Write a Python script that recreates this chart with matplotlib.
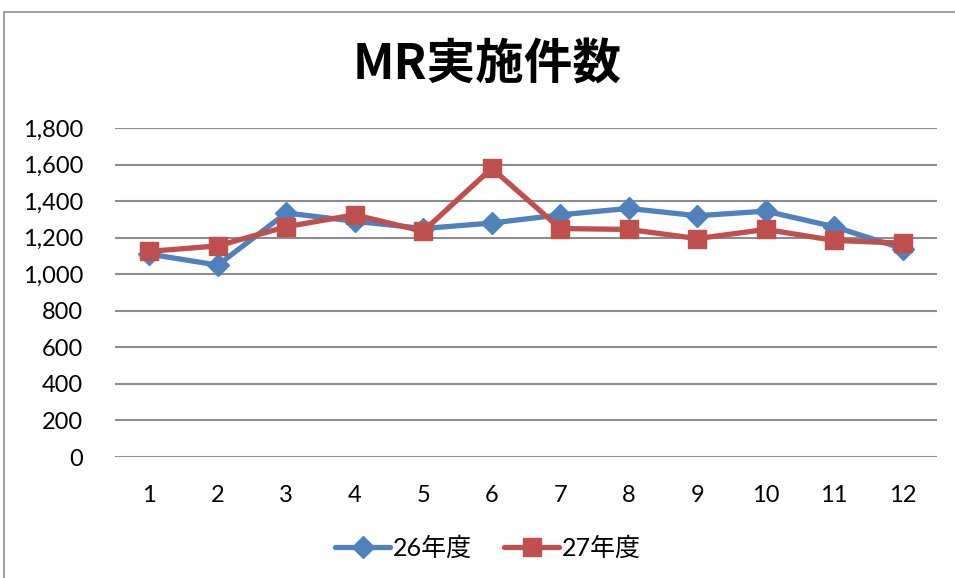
import matplotlib.pyplot as plt
from matplotlib.patches import Rectangle
from matplotlib.ticker import FuncFormatter

months = ["1", "2", "3", "4", "5", "6", "7", "8", "9", "10", "11", "12"]
fy26 = [1110, 1050, 1335, 1290, 1250, 1280, 1325, 1360, 1320, 1345, 1260, 1140]
fy27 = [1125, 1155, 1260, 1325, 1235, 1580, 1250, 1245, 1195, 1245, 1185, 1170]
series_names = ["26年度", "27年度"]
title = "MR実施件数"

plt.rcParams['font.family'] = ['Lato', 'Noto Sans CJK JP', 'DejaVu Sans']

fig = plt.figure(figsize=(9.55, 5.78), dpi=100)
ax = fig.add_axes([115 / 955, 1 - 457 / 578, (937 - 115) / 955, (457 - 128) / 578])

x = range(1, len(months) + 1)
ax.plot(x, fy26, color="#4F81BD", lw=3.8, marker="D", ms=11,
        label=series_names[0], solid_capstyle="round")
ax.plot(x, fy27, color="#C0504D", lw=3.8, marker="s", ms=13,
        label=series_names[1], solid_capstyle="round")

ax.set_xlim(0.5, 12.5)
ax.set_ylim(0, 1800)
ax.set_yticks(range(0, 1801, 200))
ax.yaxis.set_major_formatter(FuncFormatter(lambda v, p: f"{int(v):,}"))
ax.set_xticks(list(x))
ax.set_xticklabels(months)
ax.tick_params(length=0, labelsize=17)
ax.tick_params(axis="x", pad=20)
ax.tick_params(axis="y", pad=23)
ax.grid(axis="y", color="#8C8C8C", lw=1.5)
ax.set_axisbelow(True)
for s in ax.spines.values():
    s.set_visible(False)

fig.text(487 / 955, 1 - 65 / 578, title, ha="center", va="center",
         fontsize=35, fontweight="bold", family=['Noto Sans CJK JP'])

fig.legend(loc="center", bbox_to_anchor=(488 / 955, 1 - 548 / 578), ncol=2,
           frameon=False, handlelength=2.2, columnspacing=1.3,
           handletextpad=0.1, prop={'family': ['Lato', 'Noto Sans CJK JP'], 'size': 18})

fig.patches.append(Rectangle((4 / 955, -0.1), 1.1, 1 - 12 / 578 + 0.1,
                             transform=fig.transFigure, fill=False,
                             edgecolor="#8C8C8C", lw=1.2))

fig.savefig("out.png", dpi=100)
